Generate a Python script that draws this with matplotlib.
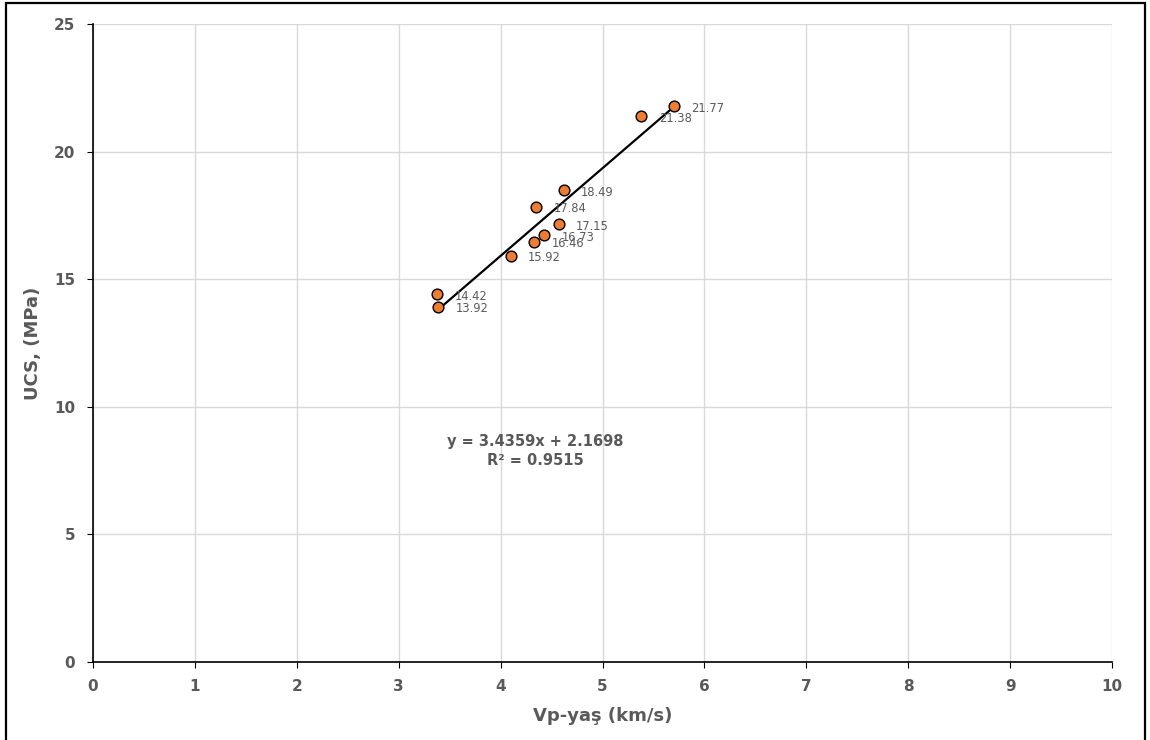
import matplotlib
matplotlib.use("Agg")
import matplotlib.pyplot as plt
from matplotlib.patches import Rectangle
import numpy as np

# measured samples
vp_dry = [5.70, 5.38, 4.62, 4.35, 4.57, 4.43, 4.33, 4.10, 3.38, 3.39]
ucs = [21.77, 21.38, 18.49, 17.84, 17.15, 16.73, 16.46, 15.92, 14.42, 13.92]
slope, intercept = 3.4359, 2.1698
r2 = 0.9515
x_ticks = list(range(0, 11))
y_ticks = [0, 5, 10, 15, 20, 25]

GRAY = "#595959"

fig = plt.figure(figsize=(11.5, 7.4), dpi=100)
ax = fig.add_axes([0.0809, 0.1055, 0.8861, 0.8621])

# outer frame like the pasted excel chart
fig.patches.append(Rectangle((0.0055, -0.05), 0.9905, 1.046, transform=fig.transFigure,
                             fill=False, edgecolor="black", linewidth=1.6))

ax.grid(True, color="#d9d9d9", linewidth=1.0)
ax.set_axisbelow(True)

xs = np.array([min(vp_dry), max(vp_dry)])
ax.plot(xs, slope * xs + intercept, color="black", linewidth=1.6, zorder=2)
ax.scatter(vp_dry, ucs, s=60, color="#ED7D31", edgecolor="black", linewidth=1.0, zorder=3)

for x, y in zip(vp_dry, ucs):
    ax.annotate(f"{y:.2f}", (x, y), xytext=(12.5, -1.5), textcoords="offset points",
                fontsize=8.3, color=GRAY, va="center")

ax.text(4.34, 8.27, f"y = {slope}x + {intercept}\nR² = {r2}", ha="center", va="center",
        fontsize=10.5, fontweight="bold", color=GRAY, linespacing=1.35)

ax.set_xlim(0, 10)
ax.set_ylim(0, 25)
ax.set_xticks(x_ticks)
ax.set_yticks(y_ticks)
ax.tick_params(labelcolor=GRAY, labelsize=11, length=4, direction="out", color="black")
ax.tick_params(axis="x", pad=8)
ax.tick_params(axis="y", pad=9)
for lab in ax.get_xticklabels() + ax.get_yticklabels():
    lab.set_fontweight("bold")

for side in ["top", "right"]:
    ax.spines[side].set_visible(False)
for side in ["left", "bottom"]:
    ax.spines[side].set_color("black")
    ax.spines[side].set_linewidth(1.2)

ax.set_xlabel("Vp-yaş (km/s)", fontsize=13, fontweight="bold", color=GRAY, labelpad=10)
ax.set_ylabel("UCS, (MPa)", fontsize=13, fontweight="bold", color=GRAY, labelpad=8)

fig.savefig("out.png", dpi=100)
